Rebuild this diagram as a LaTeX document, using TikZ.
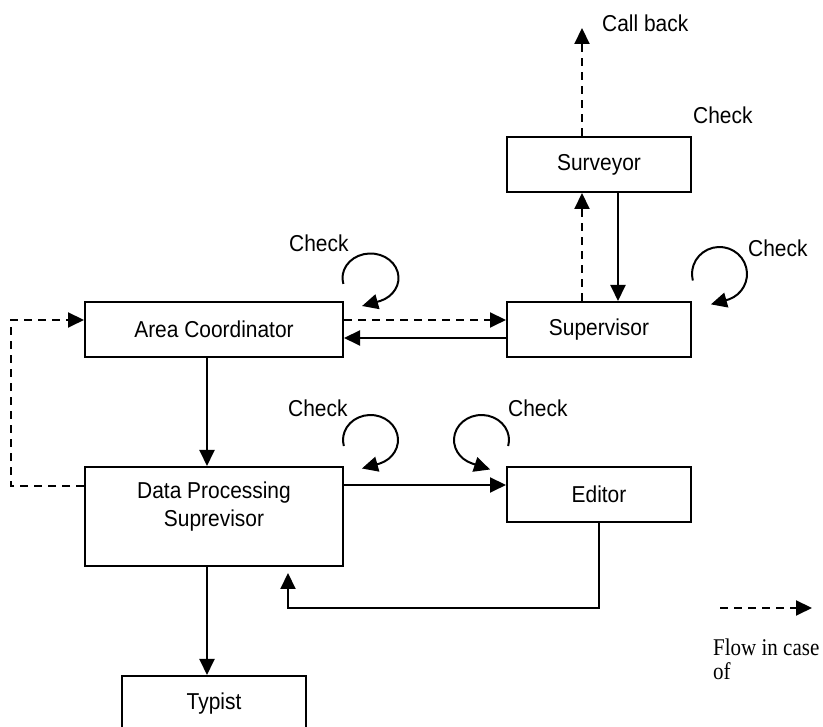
\documentclass[tikz,border=0pt]{standalone}
\usepackage{fontspec}
\newfontfamily\sansf[FakeStretch=0.91]{Liberation Sans}
\newfontfamily\seriff[FakeStretch=0.875]{Liberation Serif}
\usetikzlibrary{arrows.meta}
\tikzset{
  box/.style={draw, line width=2pt, inner sep=0pt, minimum width=184pt, minimum height=55pt,
    font=\sansf\fontsize{23}{28}\selectfont, align=center},
  lbl/.style={inner sep=0pt, font=\sansf\fontsize{23}{28}\selectfont},
  con/.style={line width=2pt, -{Triangle[length=16pt,width=15pt]}},
  dsh/.style={con, dash pattern=on 8pt off 6pt},
}
\begin{document}
\begin{tikzpicture}[x=1pt,y=1pt]
\useasboundingbox (0,0) rectangle (823,727);
\clip (0,0) rectangle (823,727);
% boxes
\node[box] (sur) at (599,562.5) {Surveyor};
\node[box] (sup) at (599,397.5) {Supervisor};
\node[box, minimum width=258pt] (ac) at (214,397.5) {Area Coordinator};
\node[box, minimum width=258pt, minimum height=99pt] (dps) at (214,210.5) {};
\node[lbl, align=center] (dpst) at (214,220) {Data Processing\\Suprevisor};
\node[box] (edi) at (599,232.5) {Editor};
\node[box] (typ) at (214,23.5) {Typist};
% labels
\coordinate (cb) at (582,699);
\node[lbl, anchor=west] (cbt) at (602,704) {Call back};
\node[lbl, anchor=west] (ck1) at (693,612) {Check};
\node[lbl, anchor=west] (ck2) at (748,479) {Check};
\node[lbl, anchor=west] (ck3) at (289,484) {Check};
\node[lbl, anchor=west] (ck4) at (288,319) {Check};
\node[lbl, anchor=west] (ck5) at (508,319) {Check};
% connectors
\draw[dsh] ([xshift=-17pt]sur.north) -- (cb);
\draw[con] ([xshift=19pt]sur.south) -- ([xshift=19pt]sup.north);
\draw[dsh] ([xshift=-17pt]sup.north) -- ([xshift=-17pt]sur.south);
\draw[dsh] ([yshift=9.5pt]ac.east) -- ([yshift=9.5pt]sup.west);
\draw[con] ([yshift=-8.5pt]sup.west) -- ([yshift=-8.5pt]ac.east);
\draw[dsh] ([yshift=30.5pt]dps.west) -- ++(-73,0) |- ([yshift=9.5pt]ac.west);
\draw[con] ([xshift=-7pt]ac.south) -- ([xshift=-7pt]dps.north);
\draw[con] ([yshift=31.5pt]dps.east) -- ([yshift=9.5pt]edi.west);
\draw[con, shorten >=6pt] (edi.south) -- ++(0,-85) -| ([xshift=74pt]dps.south);
\draw[con] ([xshift=-7pt]dps.south) -- ([xshift=-7pt]typ.north);
% check loops
\path (370.5,449) ++(194:28 and 24.5) coordinate (lac);
\draw[con] (lac) arc[start angle=194, end angle=-70, x radius=28, y radius=24.5] -- ++(-18,-5);
\path (719.5,453) ++(194:27.5 and 27) coordinate (lsup);
\draw[con] (lsup) arc[start angle=194, end angle=-70, x radius=27.5, y radius=27] -- ++(-18,-5);
\path (370.5,287) ++(194:27.5 and 25) coordinate (ldps);
\draw[con] (ldps) arc[start angle=194, end angle=-70, x radius=27.5, y radius=25] -- ++(-18,-5);
\path (481.5,287) ++(-14:27.5 and 25) coordinate (ledi);
\draw[con] (ledi) arc[start angle=-14, end angle=250, x radius=27.5, y radius=25] -- ++(18,-6);
% legend
\coordinate (lg1) at (720,119);
\coordinate (lg2) at (812,119);
\draw[dsh] (lg1) -- (lg2);
\node[inner sep=0pt, anchor=north west, align=left, font=\seriff\fontsize{24}{24}\selectfont] (lgt) at (713,88.5) {Flow in case\\of};
\end{tikzpicture}
\end{document}
